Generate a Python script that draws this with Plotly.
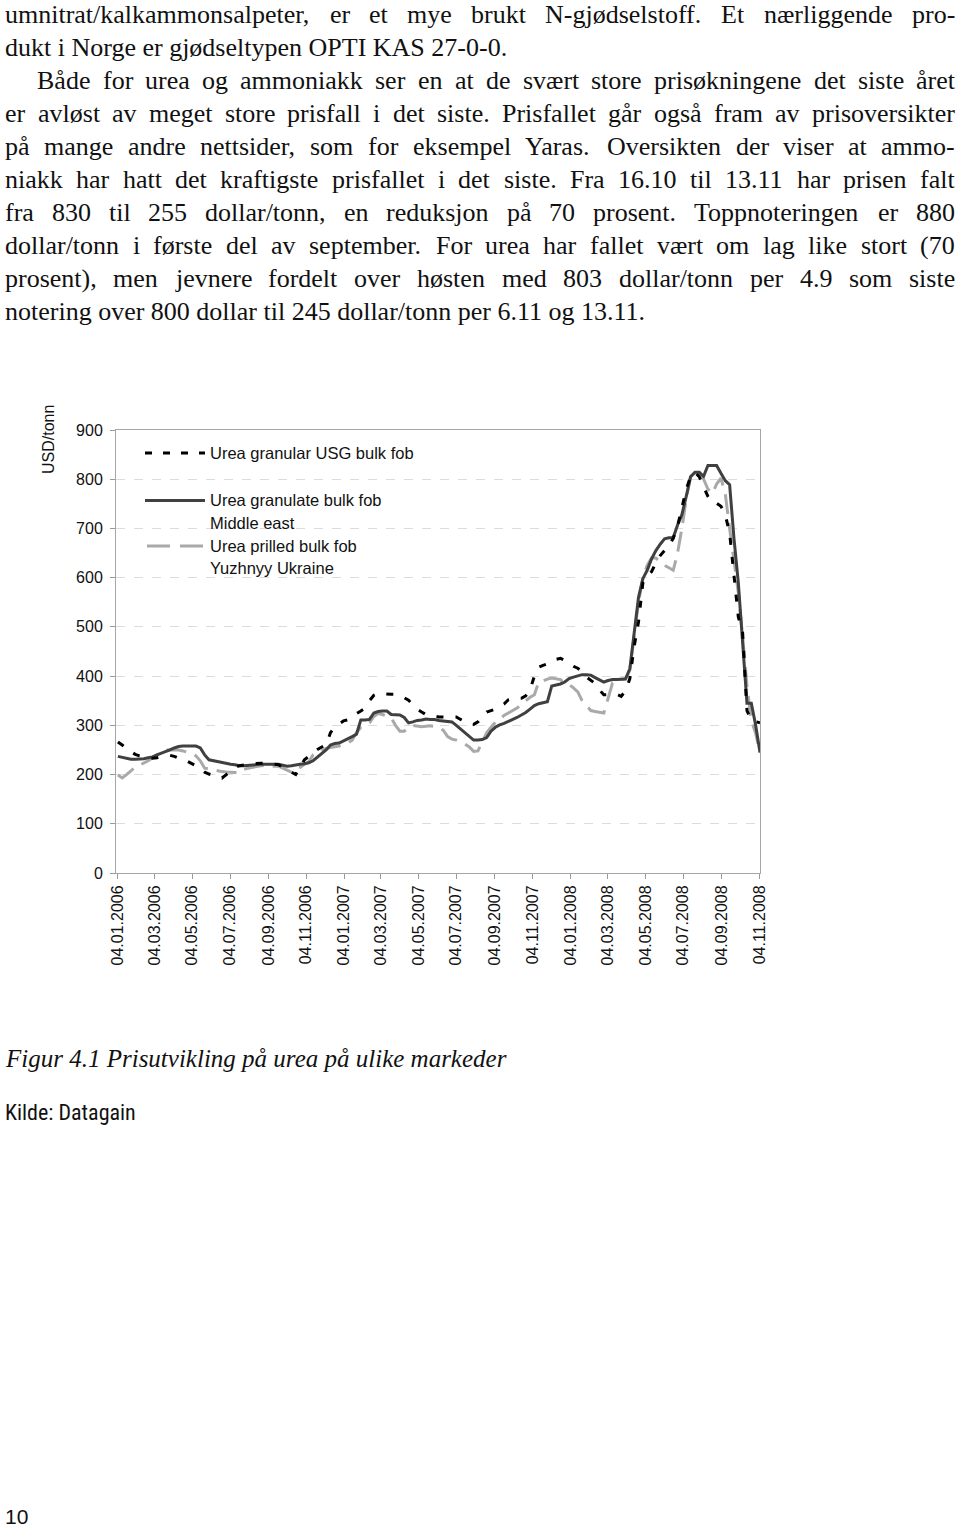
import plotly.graph_objects as go
import pandas as pd

# ---------------- data ----------------
tick_labels = ["04.01.2006", "04.03.2006", "04.05.2006", "04.07.2006", "04.09.2006",
               "04.11.2006", "04.01.2007", "04.03.2007", "04.05.2007", "04.07.2007",
               "04.09.2007", "04.11.2007", "04.01.2008", "04.03.2008", "04.05.2008",
               "04.07.2008", "04.09.2008", "04.11.2008"]

series_names = ["Urea granular USG bulk fob",
                "Urea granulate bulk fob<br>Middle east",
                "Urea prilled bulk fob<br>Yuzhnyy Ukraine"]

# weekly quotations, USD/tonn, from 04.01.2006
usg = [266, 260, 252, 246, 241, 238, 236, 234, 233, 234,
       236, 238, 239, 237, 233, 229, 227, 223, 218, 212,
       205, 201, 198, 195, 193, 200, 208, 214, 218, 220,
       221, 222, 223, 223, 223, 222, 222, 220, 215, 210,
       204, 200, 215, 230, 237, 245, 251, 256, 260, 285,
       297, 303, 309, 311, 318, 324, 329, 335, 350, 361,
       365, 364, 363, 363, 363, 360, 356, 351, 341, 333,
       327, 322, 320, 318, 317, 317, 317, 317, 317, 312,
       308, 303, 302, 307, 318, 327, 330, 333, 338, 343,
       352, 355, 355, 355, 360, 372, 400, 418, 422, 425,
       428, 434, 436, 432, 426, 420, 416, 410, 398, 392,
       385, 372, 362, 362, 362, 363, 359, 370, 395, 460,
       510, 589, 605, 612, 630, 645, 655, 664, 680, 705,
       742, 780, 805, 814, 805, 785, 765, 752, 751, 745,
       728, 690, 610, 520, 488, 330, 310, 308, 305]

middle_east = [237, 235, 233, 231, 231, 231, 232, 234, 236, 240,
               243, 246, 250, 254, 257, 258, 258, 258, 258, 254,
               240, 230, 228, 226, 224, 223, 221, 220, 218, 218,
               219, 219, 220, 221, 221, 221, 221, 221, 219, 217,
               218, 220, 221, 222, 224, 228, 235, 243, 250, 260,
               263, 264, 268, 273, 277, 282, 311, 311, 312, 325,
               328, 329, 329, 322, 321, 321, 316, 305, 307, 310,
               311, 313, 312, 312, 310, 309, 308, 307, 300, 292,
               284, 276, 270, 270, 271, 275, 288, 296, 301, 304,
               308, 311, 316, 321, 326, 333, 340, 344, 346, 348,
               380, 382, 384, 388, 395, 398, 401, 403, 403, 402,
               397, 392, 388, 391, 393, 393, 393, 394, 415, 490,
               560, 598, 615, 638, 655, 668, 679, 681, 681, 707,
               728, 765, 805, 814, 814, 806, 828, 828, 828, 812,
               797, 789, 680, 590, 465, 345, 345, 300, 245]

ukraine = [199, 193, 200, 208, 215, 219, 223, 228, 234, 240,
           245, 250, 250, 249, 250, 248, 246, 243, 238, 228,
           213, 211, 209, 208, 206, 205, 205, 204, 203, 210,
           213, 215, 216, 218, 219, 219, 217, 217, 213, 209,
           205, 208, 215, 221, 226, 240, 246, 250, 253, 255,
           256, 258, 262, 264, 270, 285, 296, 300, 305, 318,
           324, 322, 318, 315, 300, 288, 288, 295, 300, 298,
           297, 298, 299, 298, 295, 290, 277, 272, 270, 266,
           262, 256, 247, 248, 265, 285, 296, 306, 312, 320,
           325, 330, 335, 343, 350, 357, 362, 388, 390, 394,
           396, 395, 393, 385, 383, 376, 368, 350, 341, 330,
           328, 326, 325, 355, 386, 392, 393, 395, 412, 480,
           550, 600, 625, 640, 640, 632, 625, 620, 615, 650,
           700, 760, 805, 814, 812, 800, 780, 771, 790, 802,
           770, 700, 640, 570, 480, 380, 310, 284, 244]

dates = pd.date_range("2006-01-04", periods=len(usg), freq="7D")
tick_dates = pd.to_datetime(tick_labels, format="%d.%m.%Y")

# ---------------- page text ----------------
body_lines = [
    ("umnitrat/kalkammonsalpeter, er et mye brukt N-gjødselstoff. Et nærliggende pro-", True, False),
    ("dukt i Norge er gjødseltypen OPTI KAS 27-0-0.", False, False),
    ("Både for urea og ammoniakk ser en at de svært store prisøkningene det siste året", True, True),
    ("er avløst av meget store prisfall i det siste. Prisfallet går også fram av prisoversikter", True, False),
    ("på mange andre nettsider, som for eksempel Yaras. Oversikten der viser at ammo-", True, False),
    ("niakk har hatt det kraftigste prisfallet i det siste. Fra 16.10 til 13.11 har prisen falt", True, False),
    ("fra 830 til 255 dollar/tonn, en reduksjon på 70 prosent. Toppnoteringen er 880", True, False),
    ("dollar/tonn i første del av september. For urea har fallet vært om lag like stort (70", True, False),
    ("prosent), men jevnere fordelt over høsten med 803 dollar/tonn per 4.9 som siste", True, False),
    ("notering over 800 dollar til 245 dollar/tonn per 6.11 og 13.11.", False, False),
]
caption = "Figur 4.1 Prisutvikling på urea på ulike markeder"
source = "Kilde: Datagain"
page_no = "10"

# ---------------- figure ----------------
W, H = 960, 1529
PL, PR, PT, PB = 116, 760, 430, 873   # plot area in page pixels
SANS = "Liberation Sans, Arial, sans-serif"
SERIF = "Liberation Serif, Times New Roman, serif"
NARROW = "Noto Sans Condensed, Roboto Condensed, DejaVu Sans Condensed, Liberation Sans Narrow, Liberation Sans, sans-serif"


def px(x):
    return (x - PL) / (PR - PL)


def py(y):
    return (PB - y) / (PB - PT)


fig = go.Figure()
fig.add_trace(go.Scatter(x=dates, y=ukraine, mode="lines", name=series_names[2],
                         line=dict(color="#a9a9a9", width=3, dash="20px,9px")))
fig.add_trace(go.Scatter(x=dates, y=middle_east, mode="lines", name=series_names[1],
                         line=dict(color="#404040", width=3)))
fig.add_trace(go.Scatter(x=dates, y=usg, mode="lines", name=series_names[0],
                         line=dict(color="#000000", width=3, dash="7px,12px")))

fig.update_layout(width=W, height=H,
                  margin=dict(l=PL, r=W - PR, t=PT, b=H - PB, pad=0),
                  paper_bgcolor="white", plot_bgcolor="white", showlegend=False)
fig.update_xaxes(type="date", range=["2006-01-01", "2008-11-05"],
                 tickmode="array", tickvals=tick_dates, ticktext=tick_labels,
                 tickangle=-90, ticks="outside", ticklen=5, tickcolor="#9a9a9a",
                 showline=True, linecolor="#a6a6a6", linewidth=1, mirror=True,
                 showgrid=False, zeroline=False,
                 tickfont=dict(family=SANS, size=16, color="#111"))
fig.update_yaxes(range=[0, 900], dtick=100, ticks="outside", ticklen=5, tickcolor="#9a9a9a",
                 showline=True, linecolor="#a6a6a6", linewidth=1, mirror=True,
                 showgrid=True, gridcolor="#dcdcdc", griddash="dash", zeroline=False,
                 ticklabelstandoff=4,
                 tickfont=dict(family=SANS, size=16, color="#111"))

ann = []
shapes = []

# y axis title
ann.append(dict(text="USD/tonn", x=px(48), y=py(440), xref="paper", yref="paper",
                showarrow=False, textangle=-90, font=dict(family=SANS, size=16, color="#111"),
                xanchor="center", yanchor="middle"))

# legend keys and labels
shapes.append(dict(type="line", xref="paper", yref="paper", x0=px(145), x1=px(205),
                   y0=py(453), y1=py(453), line=dict(color="#000", width=3, dash="7px,11px")))
shapes.append(dict(type="line", xref="paper", yref="paper", x0=px(145), x1=px(205),
                   y0=py(500.5), y1=py(500.5), line=dict(color="#404040", width=3)))
shapes.append(dict(type="line", xref="paper", yref="paper", x0=px(147), x1=px(203),
                   y0=py(546), y1=py(546), line=dict(color="#a9a9a9", width=3, dash="23px,10px")))
legend_rows = [("Urea granular USG bulk fob", 453), ("Urea granulate bulk fob", 500),
               ("Middle east", 522.5), ("Urea prilled bulk fob", 546), ("Yuzhnyy Ukraine", 567.5)]
for t, yy in legend_rows:
    ann.append(dict(text=t, x=px(210), y=py(yy), xref="paper", yref="paper", showarrow=False,
                    xanchor="left", yanchor="middle", borderpad=0, borderwidth=0,
                    font=dict(family=SANS, size=16.5, color="#111")))

# Times New Roman / Liberation Serif advance widths (per 1000 em)
CW = {' ': 250, '.': 250, ',': 250, '-': 333, '/': 278, '(': 333, ')': 333, ':': 278,
      'a': 444, 'b': 500, 'c': 444, 'd': 500, 'e': 444, 'f': 333, 'g': 500, 'h': 500,
      'i': 278, 'j': 278, 'k': 500, 'l': 278, 'm': 778, 'n': 500, 'o': 500, 'p': 500,
      'q': 500, 'r': 333, 's': 389, 't': 278, 'u': 500, 'v': 500, 'w': 722, 'x': 500,
      'y': 500, 'z': 444, 'æ': 667, 'ø': 500, 'å': 444,
      'A': 722, 'B': 667, 'C': 667, 'D': 722, 'E': 611, 'F': 556, 'G': 722, 'H': 722,
      'I': 333, 'J': 389, 'K': 722, 'L': 611, 'M': 889, 'N': 722, 'O': 722, 'P': 556,
      'Q': 722, 'R': 667, 'S': 556, 'T': 611, 'U': 722, 'V': 722, 'W': 944, 'X': 722,
      'Y': 722, 'Z': 611}


def tw(s, size):
    return sum(CW.get(c, 500) for c in s) / 1000.0 * size


FS = 26
LEFT, RIGHT, INDENT = 5, 955, 37
for i, (line, justify, indent) in enumerate(body_lines):
    yy = 14 + 33 * i
    x0 = INDENT if indent else LEFT
    if justify:
        words = line.split(" ")
        total = sum(tw(w, FS) for w in words)
        gap = (RIGHT - x0 - total) / (len(words) - 1)
        cur = x0
        for w in words:
            ann.append(dict(text=w, x=px(cur), y=py(yy), xref="paper", yref="paper",
                            showarrow=False, xanchor="left", yanchor="middle",
                            borderpad=0, borderwidth=0,
                            font=dict(family=SERIF, size=FS, color="#111")))
            cur += tw(w, FS) + gap
    else:
        ann.append(dict(text=line, x=px(x0), y=py(yy), xref="paper", yref="paper",
                        showarrow=False, xanchor="left", yanchor="middle",
                        borderpad=0, borderwidth=0,
                        font=dict(family=SERIF, size=FS, color="#111")))

ann.append(dict(text="<i>" + caption + "</i>", x=px(5), y=py(1058), xref="paper", yref="paper",
                showarrow=False, xanchor="left", yanchor="middle", borderpad=0, borderwidth=0,
                font=dict(family=SERIF, size=25, color="#111")))
ann.append(dict(text=source, x=px(5), y=py(1112), xref="paper", yref="paper",
                showarrow=False, xanchor="left", yanchor="middle", borderpad=0, borderwidth=0,
                font=dict(family=NARROW, size=22, color="#111")))
ann.append(dict(text=page_no, x=px(5), y=py(1516), xref="paper", yref="paper",
                showarrow=False, xanchor="left", yanchor="middle", borderpad=0, borderwidth=0,
                font=dict(family=SANS, size=21, color="#111")))

fig.update_layout(annotations=ann, shapes=shapes)
fig.write_html("out.html", config={"displayModeBar": False},
               post_script="document.body.style.margin='0px';")
